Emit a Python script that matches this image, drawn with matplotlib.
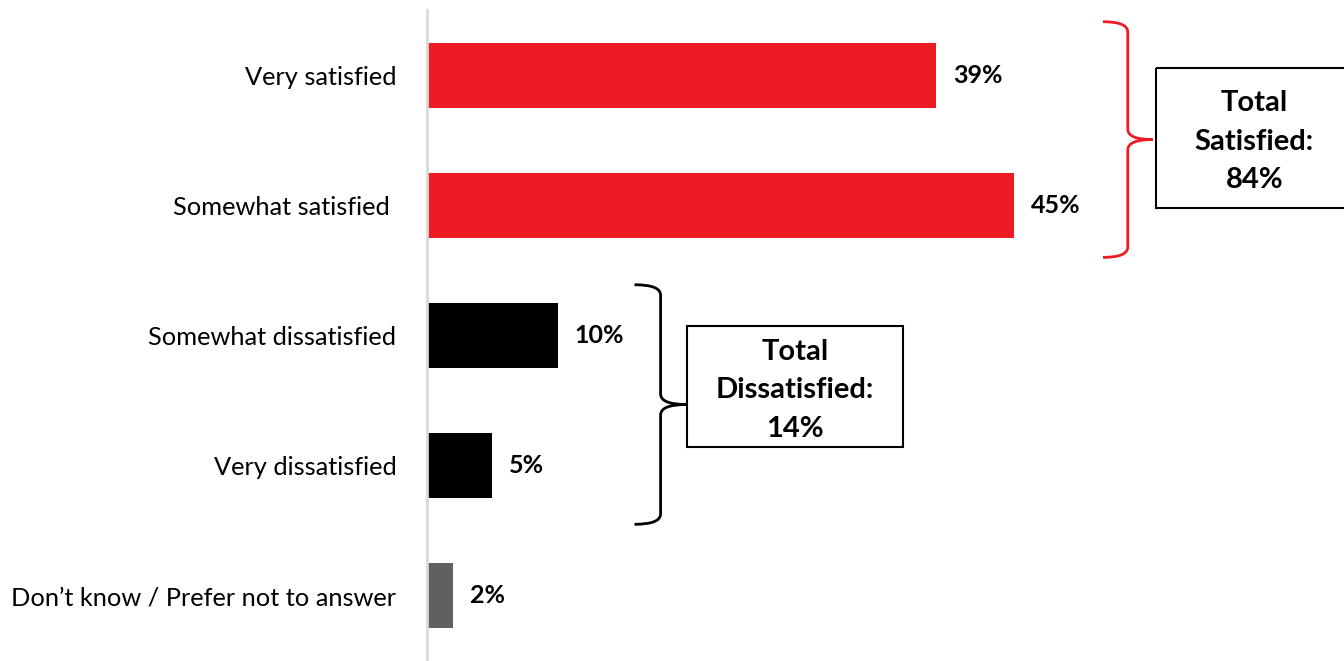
import matplotlib
matplotlib.use("Agg")
import matplotlib.pyplot as plt
from matplotlib.path import Path
from matplotlib.patches import PathPatch, Rectangle

plt.rcParams['font.family'] = ['Lato', 'DejaVu Sans']

categories = ["Very satisfied", "Somewhat satisfied ", "Somewhat dissatisfied",
              "Very dissatisfied", "Don\u2019t know / Prefer not to answer"]
values = [39, 45, 10, 5, 2]
bar_colors = ["#ED1C24", "#ED1C24", "#000000", "#000000", "#606060"]
value_labels = ["39%", "45%", "10%", "5%", "2%"]

total_satisfied = "Total\nSatisfied:\n84%"
total_dissatisfied = "Total\nDissatisfied:\n14%"

fig = plt.figure(figsize=(13.44, 6.61), dpi=100)
ax = fig.add_axes([427 / 1344, 0, 917 / 1344, 651 / 661])

y = list(range(len(categories)))
ax.barh(y, values, height=0.5, color=bar_colors)

for yi, v, lab in zip(y, values, value_labels):
    ax.text(v + 1.3, yi, lab, va="center", ha="left", fontsize=18, fontweight="bold")

ax.set_xlim(0, 917 / 13.05)
ax.set_ylim(4.5, -0.5)
ax.set_yticks(y)
ax.set_yticklabels(categories, fontsize=18.3)
ax.tick_params(axis="y", length=0, pad=22)
ax.set_xticks([])
for s in ["top", "right", "bottom"]:
    ax.spines[s].set_visible(False)
ax.spines["left"].set_color("#D9D9D9")
ax.spines["left"].set_linewidth(2)


def brace(ax, x0, xv, xt, y0, y1, color):
    # right-facing curly brace: arms at x0, spine at xv, tip at xt
    ym = (y0 + y1) / 2
    r = 0.08
    verts = [
        (x0, y0), (xv, y0), (xv, y0 + r),
        (xv, ym - r), (xv, ym), (xt, ym),
        (xv, ym), (xv, ym + r),
        (xv, y1 - r), (xv, y1), (x0, y1),
    ]
    codes = [
        Path.MOVETO, Path.CURVE3, Path.CURVE3,
        Path.LINETO, Path.CURVE3, Path.CURVE3,
        Path.CURVE3, Path.CURVE3,
        Path.LINETO, Path.CURVE3, Path.CURVE3,
    ]
    ax.add_patch(PathPatch(Path(verts, codes), fill=False, edgecolor=color,
                           lw=2, clip_on=False, capstyle="butt"))


brace(ax, 51.8, 53.7, 55.6, -0.41, 1.40, "#ED1C24")
brace(ax, 15.9, 17.9, 19.9, 1.61, 3.45, "#000000")

ax.add_patch(Rectangle((55.9, -0.055), 20, 1.075, fill=False, edgecolor="black",
                       lw=1.5, clip_on=True))
ax.text(63.4, 0.51, total_satisfied, ha="center", va="center", fontsize=21,
        fontweight="bold", linespacing=1.6)

ax.add_patch(Rectangle((19.9, 1.93), 16.6, 0.93, fill=False, edgecolor="black",
                       lw=1.5, clip_on=False))
ax.text(28.2, 2.42, total_dissatisfied, ha="center", va="center", fontsize=21,
        fontweight="bold", linespacing=1.6)

fig.savefig("out.png", dpi=100)
